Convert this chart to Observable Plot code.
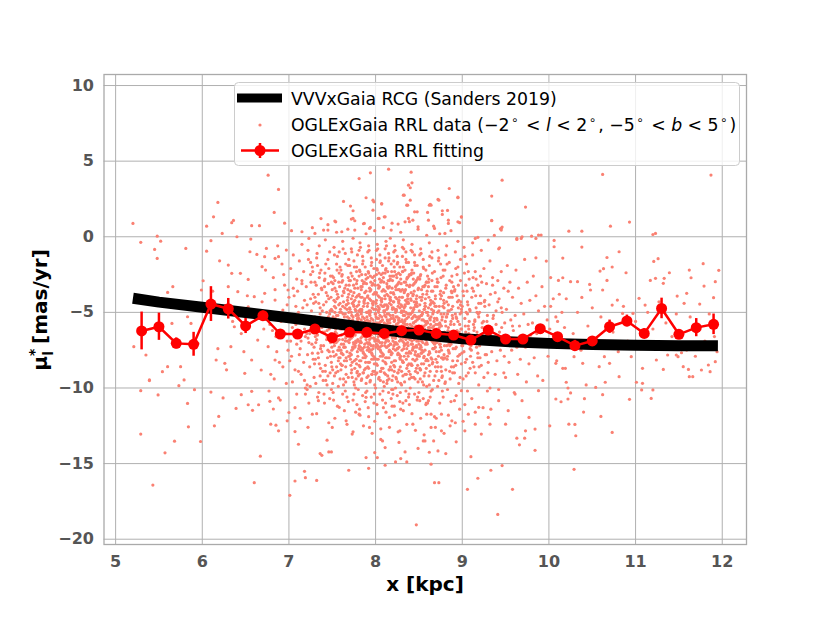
<!DOCTYPE html>
<html><head><meta charset="utf-8">
<script src="https://cdn.jsdelivr.net/npm/d3@7"></script>
<script src="https://cdn.jsdelivr.net/npm/@observablehq/plot@0.6"></script>
<style>html,body{margin:0;padding:0;background:#fff}svg{display:block}</style>
</head><body><div id="chart"></div>
<script>
const xTicks=[5,6,7,8,9,10,11,12];
const yTicks=[10,5,0,-5,-10,-15,-20];
const rcgX=[5.2,5.5,6.0,6.5,7.0,7.5,8.0,8.5,9.0,9.5,10.0,10.5,11.0,11.5,11.95];
const rcgY=[-4.07,-4.32,-4.66,-5.01,-5.36,-5.72,-6.08,-6.45,-6.74,-6.93,-7.05,-7.13,-7.18,-7.2,-7.21];
const fitX=[5.3,5.5,5.7,5.9,6.1,6.3,6.5,6.7,6.9,7.1,7.3,7.5,7.7,7.9,8.1,8.3,8.5,8.7,8.9,9.1,9.3,9.5,9.7,9.9,10.1,10.3,10.5,10.7,10.9,11.1,11.3,11.5,11.7,11.9];
const fitY=[-6.23,-5.95,-7.05,-7.11,-4.45,-4.76,-5.9,-5.22,-6.43,-6.43,-6.1,-6.67,-6.32,-6.32,-6.39,-6.21,-6.17,-6.39,-6.5,-6.83,-6.17,-6.76,-6.76,-6.08,-6.61,-7.2,-6.89,-5.95,-5.57,-6.39,-4.74,-6.45,-6.01,-5.79];
const fitErr=[1.25,0.9,0.36,0.79,1.15,0.68,0.5,0.3,0.25,0.2,0.2,0.2,0.15,0.15,0.15,0.15,0.15,0.15,0.15,0.2,0.2,0.2,0.2,0.2,0.25,0.35,0.25,0.44,0.39,0.3,0.68,0.3,0.6,0.68];

// OGLExGaia RRL stars, [x, mu] pairs
const rrlUpper=[5.2,0.88,5.29,-0.37,5.48,0.04,5.52,-0.29,5.45,-0.84,5.48,-1.43,5.81,-0.77,6.18,2.27,6.13,1.32,6.05,0.7,6.1,-0.26,6.05,-0.95,6.2,-1.59,6.3,-1.87,6.34,0.93,6.36,1.08,6.4,0,6.23,0.22,6.57,0.73,6.66,0.73,6.76,4.07,6.88,3.13,6.83,1.61,6.56,-0.15,6.55,-0.99,6.74,-0.77,6.63,-1.17,6.69,-1.98,6.34,-2.42,6.44,-2.42,6.53,-2.82,6.01,-2.91,6.84,-1.43,6.88,-1.32,6.97,-0.88,6.72,-1.32,7.81,3.85,7.94,4.23,8.15,4.47,8.41,4.27,7.63,2.34,7.71,2.03,7.74,1.72,7.89,2.58,7.98,2.31,8.07,2.16,7.97,1.76,7.54,0.99,7.72,1.17,7.87,0.88,7.94,0.62,8.4,3.24,8.33,2.75,8.4,2.42,8.37,2.09,8.48,1.65,8.6,1.61,8.64,2.09,8.1,1.32,8.04,1.21,8.34,0.99,8.43,1.1,
10.62,4.12,9.46,3.74,8.85,3.19,8.95,2.62,9.34,2.69,9.73,1.96,8.72,2.47,8.63,2.14,8.83,1.74,8.77,1.48,8.99,1.3,9.34,1.08,9.46,0.64,9.44,0.53,8.97,0.93,8.84,0.88,10.71,0.7,10.93,0.97,10.23,0.37,10.38,0.37,11.2,0.15,11.23,0.22,9.63,-0.11,9.69,0,9.85,-0.11,9.91,0.11,10.06,-0.24,10.06,-0.66,10.38,-0.68,10.16,-1.41,10.81,-0.99,10.67,-1.37,10.73,-2.0,10.59,-2.27,10.63,-2.11,10.89,-2.38,11.21,-1.63,11.26,-1.45,11.39,-2.38,11.17,-2.89,11.23,-2.75,11.33,-2.75,11.64,-2.71,11.78,-1.78,11.92,-2.97,11.96,-2.22,10.11,-2.89,10.16,-2.71,10.25,-2.97,10.33,-2.97,10.47,-3.15,10.67,-2.89,9.97,-1.61,9.85,-1.39,9.43,-0.73,9.3,-0.22,9.37,0.09,11.87,4.08,
8.38,3.41,8.42,3.57,7.97,2.42,7.53,1.04,7.74,1.21,7.76,1.06,7.86,0.86,8.07,2.2,8.11,1.32,8.03,1.21,8.32,2.75,8.36,2.09,8.45,1.65,8.62,2.09,8.73,2.42,8.95,2.58,8.77,1.72,8.84,1.1,8.95,0.99,8.99,1.32,8.61,1.1,8.26,0.84,8.38,1.21,8.49,0.66,8.68,0.55,8.8,0.22,8.18,0.44,7.93,0.55,7.76,0.44,7.61,0.33,7.45,0.44,7.4,0.44,7.3,0.22,7.15,0.33,7.23,-0.11,9.34,1.06,9.45,0.55,9.45,0.44,9.68,-0.11,9.63,-0.18,9.8,0.04,9.15,-0.11,9.18,-0.04,9.88,0.11];
const rrlLower=[5.29,-10.18,5.49,-10.46,5.73,-9.85,5.91,-10.11,5.39,-9.51,5.83,-11.02,5.29,-13.05,5.84,-12.57,5.68,-13.52,5.98,-13.54,5.57,-14.29,5.43,-16.42,6.1,-10.27,6.24,-10.66,6.19,-11.88,6.14,-12.5,6.45,-10.44,6.57,-10.22,6.39,-11.35,6.53,-11.11,6.58,-11.48,6.65,-11.11,6.67,-14.51,6.6,-16.26,6.78,-10.88,6.88,-10.66,6.79,-12.39,6.85,-12.46,6.88,-12.83,6.98,-12.17,6.82,-11.39,7.0,-11.62,7.07,-12.88,7.11,-13.72,7.18,-15.51,7.19,-15.93,7.07,-16.15,7.32,-16.11,7.01,-17.1,7.36,-14.34,7.38,-14.45,7.46,-14.23,7.49,-14.23,7.44,-13.45,7.69,-15.44,7.89,-14.6,7.92,-15.31,7.99,-14.27,8.11,-15.11,8.23,-14.89,8.29,-14.67,8.47,-19.05,8.36,-14.89,8.64,-15.04,8.68,-16.26,8.49,-14.0,8.62,-14.25,8.34,-14.23,8.11,-13.94,8.02,-14.6,
7.19,-10.4,7.34,-10.84,7.58,-11.28,7.66,-12.17,7.81,-11.73,7.73,-13.05,7.93,-12.61,8.16,-11.95,8.28,-12.83,8.43,-12.39,8.55,-13.5,8.59,-11.73,8.08,-13.5,7.5,-12.61,7.27,-11.73,8.35,-10.84,8.51,-10.84,8.2,-10.4,7.89,-10.62,7.62,-10.4,
8.73,-16.26,8.81,-14.34,9.1,-14.54,9.06,-16.7,9.18,-15.97,9.33,-15.44,9.46,-15.13,9.58,-16.7,9.41,-18.36,9.84,-14.12,9.63,-13.32,9.72,-13.32,9.66,-13.76,9.84,-12.72,8.93,-13.56,8.67,-13.5,8.72,-14.16,10.29,-15.38,10.31,-13.16,10.23,-12.39,10.3,-12.41,10.01,-12.5,10.73,-12.94,10.4,-11.59,10.6,-11.88,10.08,-10.73,10.14,-10.91,10.22,-10.73,10.25,-10.33,10.41,-10.71,10.62,-10.44,10.93,-10.75,11.18,-10.69,11.2,-10.13,11.07,-10.13,11.08,-9.69,11.01,-9.62,10.54,-9.96,10.65,-9.62,10.43,-9.8,10.2,-9.62,10.22,-10.0,
8.57,-13.5,8.64,-12.61,8.76,-11.73,8.61,-10.84,8.88,-12.17,8.91,-10.84,9.03,-12.83,9.07,-11.73,9.19,-11.28,9.15,-12.39,9.3,-11.95,9.42,-10.84,9.5,-12.39,9.53,-11.5,9.69,-10.84,9.77,-11.95,9.61,-10.4,9.88,-10.18,9.32,-12.39,9.22,-13.05,9.73,-12.83,8.99,-10.18,8.76,-12.83,8.64,-11.73];
const rrlSides=[11.04,-4.07,11.11,-4.52,11.32,-3.08,11.48,-3.92,11.79,-3.26,11.9,-4.03,11.74,-4.45,11.59,-3.74,10.95,-7.93,11.08,-8.7,11.32,-8.77,11.49,-7.93,11.55,-8.59,11.61,-8.77,11.62,-9.25,11.66,-9.25,11.76,-8.81,11.86,-8.92,11.92,-8.26,11.84,-8.48,11.53,-7.67,11.47,-7.82,11.59,-7.49,11.37,-7.82,11.24,-8.15,10.97,-5.07,10.85,-5.07,10.79,-4.19,10.73,-4.52,10.62,-3.52,10.38,-4.01,10.48,-3.52,10.7,-8.37,10.64,-7.93,10.58,-8.59,10.81,-9.25,10.39,-8.37,10.29,-7.93,10.19,-8.7,10.08,-8.37,
10.02,-4.6,10.1,-5.6,10.14,-7.2,10.2,-4.1,10.28,-6.4,10.33,-5.0,10.37,-7.5,10.45,-5.9,10.5,-4.7,10.55,-6.7,10.6,-5.3,10.68,-7.0,10.74,-6.3,10.8,-7.6,10.86,-4.6,10.91,-6.9,11.0,-5.6,11.06,-7.4,11.14,-5.0,11.2,-6.1,11.27,-4.3,11.35,-5.7,11.42,-6.6,11.47,-5.1,11.56,-4.4,11.63,-5.3,11.69,-7.9,11.8,-6.9,11.85,-5.1,11.91,-6.6,11.94,-7.6,11.62,-2.2,
5.6,-3.68,5.66,-3.3,5.87,-5.73,5.99,-3.52,6.0,-4.52,5.65,-5.73,5.83,-5.29,5.6,-8.59,5.75,-8.59,5.54,-8.92,5.35,-7.82,5.21,-7.27,5.39,-9.47,5.79,-9.47,5.95,-7.05,6.16,-8.15,6.26,-8.37,6.33,-7.27,6.37,-5.95,6.41,-5.29,6.53,-4.63,6.6,-3.96,6.3,-3.3,6.41,-3.63,6.64,-6.83,6.76,-7.27,6.84,-8.15,6.68,-8.81,6.57,-8.15,6.49,-9.03,6.86,-5.07,6.93,-4.85,6.84,-4.19,6.72,-3.74,6.99,-3.52,
6.12,-3.6,6.18,-7.4,6.22,-4.7,6.28,-8.8,6.35,-5.6,6.45,-6.4,6.48,-7.6,6.52,-3.9,6.62,-5.2,6.69,-4.3,6.71,-6.1,6.78,-5.8,6.73,-2.2,6.77,-10.2,6.79,-9.1,6.82,-2.7,6.85,-6.6,6.88,-5.3,6.81,-6.2,6.86,-7.6,6.89,-8.3,6.83,-9.4,6.87,-0.6,6.84,-3.5,6.92,-1.8,6.95,-3.2,6.98,-4.5,6.91,-5.6,6.96,-6.4,6.99,-7.5,6.93,-8.6,6.97,-9.7,6.94,-2.5,6.90,-10.8,6.98,-6.9,6.95,0.9,
9.92,-3.3,9.95,-4.6,9.98,-5.5,9.91,-6.3,9.96,-7.0,9.99,-7.9,9.93,-9.5,10.02,-2.7,10.05,-4.1,10.08,-5.3,10.01,-6.1,10.06,-6.9,10.09,-8.2,10.12,-3.8,10.15,-5.0,10.18,-6.0,10.11,-7.3,10.16,-8.7];
const rrlCore=[
7.02,-2.1,7.05,-3.4,7.08,-4.6,7.01,-5.2,7.06,-6.3,7.09,-7.1,7.03,-7.9,7.07,-8.8,7.04,-9.6,7.00,-4.0,7.08,-5.8,7.02,-6.9,7.05,-1.2,7.09,-10.4,7.01,-8.2,7.06,-3.9,7.03,0.4,7.07,-11.3,7.04,-6.0,7.09,-2.8,
7.12,-1.6,7.15,-2.9,7.18,-4.2,7.11,-5.0,7.16,-5.7,7.19,-6.6,7.13,-7.4,7.17,-8.3,7.14,-9.1,7.10,-3.6,7.18,-6.1,7.12,-7.8,7.15,-0.5,7.19,-10.0,7.11,-8.9,7.16,-4.7,7.13,-12.0,7.17,-2.3,7.14,-6.9,7.18,-9.5,7.10,-5.4,7.15,-3.1,
7.22,-0.9,7.25,-2.5,7.28,-3.8,7.21,-4.5,7.26,-5.3,7.29,-6.2,7.23,-7.0,7.27,-7.7,7.24,-8.6,7.20,-3.3,7.28,-5.9,7.22,-6.7,7.25,-1.7,7.29,-9.3,7.21,-10.1,7.26,-4.9,7.23,-11.0,7.27,-2.0,7.24,-6.4,7.28,-8.1,7.20,-5.6,7.25,-4.1,7.22,-12.6,7.27,0.6,7.29,-7.3,7.21,-9.8,
7.32,-1.4,7.35,-2.7,7.38,-3.5,7.31,-4.3,7.36,-5.1,7.39,-5.8,7.33,-6.5,7.37,-7.2,7.34,-8.0,7.30,-3.0,7.38,-6.0,7.32,-6.8,7.35,-0.6,7.39,-8.9,7.31,-9.7,7.36,-4.7,7.33,-10.6,7.37,-2.2,7.34,-5.5,7.38,-7.6,7.30,-4.0,7.35,-8.4,7.32,-11.7,7.37,1.2,7.39,-6.3,7.31,-7.0,7.34,-3.8,7.36,-9.2,7.33,-1.9,7.30,-5.3,
7.42,-0.2,7.45,-1.5,7.48,-2.6,7.41,-3.3,7.46,-4.1,7.49,-4.8,7.43,-5.4,7.47,-6.0,7.44,-6.6,7.40,-7.2,7.48,-7.9,7.42,-8.5,7.45,-9.2,7.49,-10.1,7.41,-11.0,7.46,-2.1,7.43,-3.7,7.47,-5.1,7.44,-5.8,7.48,-6.9,7.40,-4.5,7.45,-7.5,7.42,-8.9,7.47,-1.0,7.49,-3.0,7.41,-6.3,7.44,-9.8,7.46,-12.3,7.43,-4.3,7.40,-5.6,7.48,-7.0,7.45,0.8,7.41,-2.9,7.47,-10.7,7.44,-6.2,7.49,-8.3,
7.52,-0.7,7.55,-1.8,7.58,-2.4,7.51,-3.1,7.56,-3.8,7.59,-4.4,7.53,-5.0,7.57,-5.5,7.54,-6.1,7.50,-6.7,7.58,-7.3,7.52,-7.9,7.55,-8.6,7.59,-9.4,7.51,-10.3,7.56,-1.3,7.53,-2.9,7.57,-4.0,7.54,-4.7,7.58,-5.9,7.50,-3.5,7.55,-6.4,7.52,-7.0,7.57,-8.2,7.59,-2.0,7.51,-5.3,7.54,-9.0,7.56,-11.2,7.53,-3.4,7.50,-4.9,7.58,-6.8,7.55,0.3,7.51,-7.6,7.57,-9.9,7.54,-5.7,7.59,-8.0,7.52,-4.2,7.56,-6.9,7.50,-2.6,7.53,-12.0,7.58,-1.0,7.55,-5.2,
7.62,-0.3,7.65,-1.1,7.68,-1.9,7.61,-2.6,7.66,-3.2,7.69,-3.8,7.63,-4.3,7.67,-4.8,7.64,-5.3,7.60,-5.8,7.68,-6.3,7.62,-6.8,7.65,-7.3,7.69,-7.9,7.61,-8.5,7.66,-9.1,7.63,-9.8,7.67,-10.6,7.64,-11.5,7.60,-2.2,7.68,-3.5,7.62,-4.6,7.65,-5.1,7.69,-5.6,7.61,-6.1,7.66,-6.6,7.63,-7.1,7.67,-7.6,7.64,-8.2,7.60,-8.8,7.68,-4.0,7.62,-5.9,7.65,-6.9,7.69,-1.5,7.61,-3.0,7.66,-4.5,7.63,-9.4,7.67,-12.4,7.64,-6.4,7.60,-7.5,7.68,0.5,7.62,-2.9,7.65,-10.2,7.69,-5.0,7.61,-7.7,7.66,-8.0,7.63,-3.6,7.67,-6.0,
7.72,-0.8,7.75,-1.6,7.78,-2.3,7.71,-2.9,7.76,-3.4,7.79,-3.9,7.73,-4.4,7.77,-4.9,7.74,-5.3,7.70,-5.8,7.78,-6.2,7.72,-6.7,7.75,-7.1,7.79,-7.6,7.71,-8.1,7.76,-8.7,7.73,-9.3,7.77,-10.0,7.74,-10.8,7.70,-1.9,7.78,-3.1,7.72,-4.1,7.75,-4.6,7.79,-5.1,7.71,-5.6,7.76,-6.0,7.73,-6.5,7.77,-6.9,7.74,-7.4,7.70,-7.9,7.78,-8.4,7.72,-9.0,7.75,-3.7,7.79,-5.4,7.71,-6.4,7.76,-7.3,7.73,-2.6,7.77,-11.6,7.74,-0.1,7.70,-4.7,7.78,-5.7,7.72,-7.8,7.75,-9.6,7.79,-1.2,7.71,-3.6,7.76,-4.2,7.73,-8.3,7.77,-6.1,7.74,-12.9,7.70,-6.8,7.78,-2.0,7.72,-5.0,7.75,-10.4,7.79,-8.9,
7.82,-0.4,7.85,-1.3,7.88,-2.0,7.81,-2.6,7.86,-3.1,7.89,-3.6,7.83,-4.0,7.87,-4.4,7.84,-4.8,7.80,-5.2,7.88,-5.6,7.82,-6.0,7.85,-6.4,7.89,-6.8,7.81,-7.2,7.86,-7.7,7.83,-8.2,7.87,-8.8,7.84,-9.4,7.80,-10.1,7.88,-10.9,7.82,-11.8,7.85,-1.8,7.89,-2.8,7.81,-3.8,7.86,-4.6,7.83,-5.0,7.87,-5.4,7.84,-5.8,7.80,-6.2,7.88,-6.6,7.82,-7.0,7.85,-7.4,7.89,-7.9,7.81,-8.5,7.86,-9.0,7.83,-3.3,7.87,-4.2,7.84,-6.1,7.80,-6.9,7.88,-8.0,7.82,-2.3,7.85,-5.3,7.89,-9.7,7.81,-0.9,7.86,-12.5,7.83,-7.5,7.87,-3.0,7.84,-4.9,7.80,-5.9,7.88,-6.3,7.82,-8.6,7.85,-10.5,7.89,0.2,7.81,-4.3,7.86,-5.7,7.83,-6.7,7.87,-7.3,7.84,-2.5,7.80,-9.2,
7.92,-0.6,7.95,-1.4,7.98,-2.1,7.91,-2.7,7.96,-3.2,7.99,-3.7,7.93,-4.1,7.97,-4.5,7.94,-4.9,7.90,-5.3,7.98,-5.7,7.92,-6.1,7.95,-6.5,7.99,-6.9,7.91,-7.3,7.96,-7.8,7.93,-8.3,7.97,-8.9,7.94,-9.5,7.90,-10.2,7.98,-11.0,7.92,-11.9,7.95,-1.9,7.99,-2.9,7.91,-3.9,7.96,-4.7,7.93,-5.1,7.97,-5.5,7.94,-5.9,7.90,-6.3,7.98,-6.7,7.92,-7.1,7.95,-7.5,7.99,-8.0,7.91,-8.6,7.96,-9.1,7.93,-3.4,7.97,-4.3,7.94,-6.2,7.90,-7.0,7.98,-8.1,7.92,-2.4,7.95,-5.4,7.99,-9.8,7.91,-1.0,7.96,-13.0,7.93,-7.6,7.97,-3.1,7.94,-5.0,7.90,-6.0,7.98,-6.4,7.92,-8.7,7.95,-10.6,7.99,0.4,7.91,-4.4,7.96,-5.8,7.93,-6.8,7.97,-7.4,7.94,-2.6,7.90,-9.3,7.98,-4.8,7.92,-5.6,7.95,-7.2,7.99,-12.2,
8.02,-0.5,8.05,-1.2,8.08,-1.9,8.01,-2.5,8.06,-3.0,8.09,-3.5,8.03,-3.9,8.07,-4.3,8.04,-4.7,8.00,-5.1,8.08,-5.5,8.02,-5.9,8.05,-6.3,8.09,-6.7,8.01,-7.1,8.06,-7.6,8.03,-8.1,8.07,-8.7,8.04,-9.3,8.00,-10.0,8.08,-10.8,8.02,-11.7,8.05,-1.7,8.09,-2.7,8.01,-3.7,8.06,-4.5,8.03,-4.9,8.07,-5.3,8.04,-5.7,8.00,-6.1,8.08,-6.5,8.02,-6.9,8.05,-7.3,8.09,-7.8,8.01,-8.4,8.06,-8.9,8.03,-3.2,8.07,-4.1,8.04,-6.0,8.00,-6.8,8.08,-7.9,8.02,-2.2,8.05,-5.2,8.09,-9.6,8.01,-0.9,8.06,-12.7,8.03,-7.4,8.07,-2.9,8.04,-4.8,8.00,-5.8,8.08,-6.2,8.02,-8.5,8.05,-10.4,8.09,0.6,8.01,-4.2,8.06,-5.6,8.03,-6.6,8.07,-7.2,8.04,-2.4,8.00,-9.1,8.08,-4.6,8.02,-5.4,8.05,-7.0,8.09,-11.3,8.01,-1.5,8.06,-13.4,
8.12,-0.3,8.15,-1.1,8.18,-1.8,8.11,-2.4,8.16,-2.9,8.19,-3.4,8.13,-3.8,8.17,-4.2,8.14,-4.6,8.10,-5.0,8.18,-5.4,8.12,-5.8,8.15,-6.2,8.19,-6.6,8.11,-7.0,8.16,-7.5,8.13,-8.0,8.17,-8.6,8.14,-9.2,8.10,-9.9,8.18,-10.7,8.12,-11.6,8.15,-1.6,8.19,-2.6,8.11,-3.6,8.16,-4.4,8.13,-4.8,8.17,-5.2,8.14,-5.6,8.10,-6.0,8.18,-6.4,8.12,-6.8,8.15,-7.2,8.19,-7.7,8.11,-8.3,8.16,-8.8,8.13,-3.1,8.17,-4.0,8.14,-5.9,8.10,-6.7,8.18,-7.8,8.12,-2.1,8.15,-5.1,8.19,-9.5,8.11,-0.8,8.16,-12.6,8.13,-7.3,8.17,-2.8,8.14,-4.7,8.10,-5.7,8.18,-6.1,8.12,-8.4,8.15,-10.3,8.19,0.9,8.11,-4.1,8.16,-5.5,8.13,-6.5,8.17,-7.1,8.14,-2.3,8.10,-9.0,8.18,-4.5,8.12,-5.3,8.15,-6.9,8.19,-11.2,8.11,-1.4,8.16,-3.3,8.13,-9.7,8.17,-0.1,
8.22,-0.6,8.25,-1.3,8.28,-2.0,8.21,-2.6,8.26,-3.1,8.29,-3.6,8.23,-4.0,8.27,-4.4,8.24,-4.8,8.20,-5.2,8.28,-5.6,8.22,-6.0,8.25,-6.4,8.29,-6.8,8.21,-7.2,8.26,-7.7,8.23,-8.2,8.27,-8.8,8.24,-9.4,8.20,-10.1,8.28,-10.9,8.22,-11.8,8.25,-1.8,8.29,-2.8,8.21,-3.8,8.26,-4.6,8.23,-5.0,8.27,-5.4,8.24,-5.8,8.20,-6.2,8.28,-6.6,8.22,-7.0,8.25,-7.4,8.29,-7.9,8.21,-8.5,8.26,-9.0,8.23,-3.3,8.27,-4.2,8.24,-6.1,8.20,-6.9,8.28,-8.0,8.22,-2.3,8.25,-5.3,8.29,-9.7,8.21,-1.0,8.26,-12.9,8.23,-7.5,8.27,-3.0,8.24,-4.9,8.20,-5.9,8.28,-6.3,8.22,-8.6,8.25,-10.5,8.29,0.3,8.21,-4.3,8.26,-5.7,8.23,-6.7,8.27,-7.3,8.24,-2.5,8.20,-9.2,8.28,-4.7,8.22,-5.5,8.25,-7.1,8.29,-11.4,8.21,-1.6,8.26,-3.5,8.23,-10.0,8.27,-13.6,
8.32,-0.2,8.35,-1.0,8.38,-1.7,8.31,-2.3,8.36,-2.8,8.39,-3.3,8.33,-3.7,8.37,-4.1,8.34,-4.5,8.30,-4.9,8.38,-5.3,8.32,-5.7,8.35,-6.1,8.39,-6.5,8.31,-6.9,8.36,-7.4,8.33,-7.9,8.37,-8.5,8.34,-9.1,8.30,-9.8,8.38,-10.6,8.32,-11.5,8.35,-1.5,8.39,-2.5,8.31,-3.5,8.36,-4.3,8.33,-4.7,8.37,-5.1,8.34,-5.5,8.30,-5.9,8.38,-6.3,8.32,-6.7,8.35,-7.1,8.39,-7.6,8.31,-8.2,8.36,-8.7,8.33,-3.0,8.37,-3.9,8.34,-5.8,8.30,-6.6,8.38,-7.7,8.32,-2.0,8.35,-5.0,8.39,-9.4,8.31,-0.7,8.36,-12.4,8.33,-7.2,8.37,-2.7,8.34,-4.6,8.30,-5.6,8.38,-6.0,8.32,-8.3,8.35,-10.2,8.39,1.0,8.31,-4.0,8.36,-5.4,8.33,-6.4,8.37,-7.0,8.34,-2.2,8.30,-8.9,8.38,-4.4,8.32,-5.2,8.35,-6.8,8.39,-11.1,8.31,-1.3,8.36,-3.2,
8.42,-0.5,8.45,-1.2,8.48,-1.9,8.41,-2.5,8.46,-3.0,8.49,-3.5,8.43,-3.9,8.47,-4.3,8.44,-4.7,8.40,-5.1,8.48,-5.5,8.42,-5.9,8.45,-6.3,8.49,-6.7,8.41,-7.1,8.46,-7.6,8.43,-8.1,8.47,-8.7,8.44,-9.3,8.40,-10.0,8.48,-10.8,8.42,-11.7,8.45,-1.7,8.49,-2.7,8.41,-3.7,8.46,-4.5,8.43,-4.9,8.47,-5.3,8.44,-5.7,8.40,-6.1,8.48,-6.5,8.42,-6.9,8.45,-7.3,8.49,-7.8,8.41,-8.4,8.46,-8.9,8.43,-3.2,8.47,-4.1,8.44,-6.0,8.40,-6.8,8.48,-7.9,8.42,-2.2,8.45,-5.2,8.49,-9.6,8.41,-0.9,8.46,-12.8,8.43,-7.4,8.47,-2.9,8.44,-4.8,8.40,-5.8,8.48,-6.2,8.42,-8.5,8.45,-10.4,8.49,0.5,8.41,-4.2,8.46,-5.6,8.43,-6.6,8.47,-7.2,8.44,-2.4,8.40,-9.1,8.48,-4.6,8.42,-5.4,
8.52,-0.8,8.55,-1.5,8.58,-2.2,8.51,-2.8,8.56,-3.3,8.59,-3.8,8.53,-4.2,8.57,-4.6,8.54,-5.0,8.50,-5.4,8.58,-5.8,8.52,-6.2,8.55,-6.6,8.59,-7.0,8.51,-7.4,8.56,-7.9,8.53,-8.4,8.57,-9.0,8.54,-9.6,8.50,-10.3,8.58,-11.1,8.52,-12.0,8.55,-2.0,8.59,-3.0,8.51,-4.0,8.56,-4.8,8.53,-5.2,8.57,-5.6,8.54,-6.0,8.50,-6.4,8.58,-6.8,8.52,-7.2,8.55,-7.6,8.59,-8.1,8.51,-8.7,8.56,-9.2,8.53,-3.5,8.57,-4.4,8.54,-6.3,8.50,-7.1,8.58,-8.2,8.52,-2.5,8.55,-5.5,8.59,-9.9,8.51,-1.2,8.56,-13.1,8.53,-7.7,8.57,-3.2,8.54,-5.1,8.50,-6.1,8.58,-6.5,8.52,-8.8,8.55,-10.7,8.59,0.1,8.51,-4.5,8.56,-5.9,8.53,-6.9,8.57,-7.5,
8.62,-0.4,8.65,-1.4,8.68,-2.3,8.61,-3.0,8.66,-3.6,8.69,-4.1,8.63,-4.5,8.67,-4.9,8.64,-5.3,8.60,-5.7,8.68,-6.1,8.62,-6.5,8.65,-6.9,8.69,-7.3,8.61,-7.8,8.66,-8.3,8.63,-8.9,8.67,-9.5,8.64,-10.2,8.60,-11.0,8.68,-11.9,8.62,-1.9,8.65,-2.9,8.69,-3.9,8.61,-4.7,8.66,-5.1,8.63,-5.5,8.67,-5.9,8.64,-6.3,8.60,-6.7,8.68,-7.1,8.62,-7.6,8.65,-8.1,8.69,-8.6,8.61,-3.3,8.66,-4.3,8.63,-6.2,8.67,-7.0,8.64,-8.0,8.60,-2.6,8.68,-5.4,8.62,-9.8,8.65,-1.0,8.69,-12.6,8.61,-6.0,8.66,-7.4,8.63,-10.6,8.67,0.7,8.64,-4.4,8.60,-5.0,8.68,-6.8,8.62,-8.5,
8.72,-0.9,8.75,-1.8,8.78,-2.6,8.71,-3.3,8.76,-3.9,8.79,-4.4,8.73,-4.9,8.77,-5.3,8.74,-5.7,8.70,-6.1,8.78,-6.5,8.72,-6.9,8.75,-7.3,8.79,-7.8,8.71,-8.3,8.76,-8.9,8.73,-9.5,8.77,-10.2,8.74,-11.0,8.70,-12.0,8.78,-2.2,8.72,-3.0,8.75,-4.1,8.79,-4.7,8.71,-5.5,8.76,-5.9,8.73,-6.3,8.77,-6.7,8.74,-7.1,8.70,-7.6,8.78,-8.1,8.72,-8.6,8.75,-3.6,8.79,-5.1,8.71,-6.8,8.76,-7.5,8.73,-1.4,8.77,-9.2,8.74,0.2,8.70,-4.6,8.78,-10.6,8.72,-5.8,8.75,-6.6,8.79,-13.0,8.71,-2.8,8.76,-8.0,
8.82,-0.6,8.85,-1.7,8.88,-2.6,8.81,-3.4,8.86,-4.0,8.89,-4.6,8.83,-5.1,8.87,-5.6,8.84,-6.0,8.80,-6.4,8.88,-6.8,8.82,-7.2,8.85,-7.7,8.89,-8.2,8.81,-8.8,8.86,-9.4,8.83,-10.1,8.87,-10.9,8.84,-11.8,8.80,-2.2,8.88,-3.0,8.82,-4.3,8.85,-4.9,8.89,-5.4,8.81,-5.9,8.86,-6.3,8.83,-6.7,8.87,-7.1,8.84,-7.5,8.80,-8.0,8.88,-3.7,8.82,-5.3,8.85,-6.6,8.89,-9.0,8.81,-1.2,8.86,-12.5,8.83,-7.9,8.87,0.4,8.84,-4.5,8.80,-9.7,
8.92,-1.0,8.95,-2.0,8.98,-2.9,8.91,-3.6,8.96,-4.2,8.99,-4.8,8.93,-5.3,8.97,-5.8,8.94,-6.2,8.90,-6.6,8.98,-7.0,8.92,-7.4,8.95,-7.9,8.99,-8.4,8.91,-9.0,8.96,-9.7,8.93,-10.5,8.97,-11.4,8.94,-2.5,8.90,-3.3,8.98,-4.5,8.92,-5.1,8.95,-5.6,8.99,-6.1,8.91,-6.5,8.96,-6.9,8.93,-7.3,8.97,-7.8,8.94,-3.9,8.90,-8.6,8.98,-1.5,8.92,-12.3,8.95,-0.3,8.99,-5.0,
9.02,-0.7,9.05,-1.8,9.08,-2.8,9.01,-3.6,9.06,-4.3,9.09,-4.9,9.03,-5.4,9.07,-5.9,9.04,-6.3,9.00,-6.7,9.08,-7.1,9.02,-7.6,9.05,-8.1,9.09,-8.7,9.01,-9.4,9.06,-10.2,9.03,-11.1,9.07,-2.3,9.04,-3.2,9.00,-4.6,9.08,-5.6,9.02,-6.5,9.05,-6.9,9.09,-7.4,9.01,-12.2,9.06,-5.1,9.03,-1.3,9.07,-9.0,
9.12,-1.2,9.15,-2.3,9.18,-3.2,9.11,-4.0,9.16,-4.7,9.19,-5.3,9.13,-5.8,9.17,-6.3,9.14,-6.7,9.10,-7.2,9.18,-7.7,9.12,-8.3,9.15,-9.0,9.19,-9.8,9.11,-10.7,9.16,-2.8,9.13,-3.6,9.17,-5.0,9.14,-6.0,9.10,-6.9,9.18,-8.0,9.12,-0.4,9.15,-11.6,9.19,-4.4,
9.22,-0.9,9.25,-2.1,9.28,-3.1,9.21,-3.9,9.26,-4.6,9.29,-5.2,9.23,-5.7,9.27,-6.2,9.24,-6.7,9.20,-7.2,9.28,-7.8,9.22,-8.5,9.25,-9.3,9.29,-10.2,9.21,-2.6,9.26,-4.2,9.23,-6.0,9.27,-6.9,9.24,-11.3,9.20,-5.0,
9.32,-1.6,9.35,-2.7,9.38,-3.7,9.31,-4.5,9.36,-5.2,9.39,-5.8,9.33,-6.4,9.37,-7.0,9.34,-7.6,9.30,-8.3,9.38,-9.1,9.32,-10.0,9.35,-3.2,9.39,-4.9,9.31,-6.1,9.36,-6.7,9.33,-11.4,
9.42,-0.8,9.45,-2.3,9.48,-3.4,9.41,-4.3,9.46,-5.0,9.49,-5.7,9.43,-6.3,9.47,-6.9,9.44,-7.5,9.40,-8.2,9.48,-9.0,9.42,-10.1,9.45,-4.7,9.49,-6.6,9.41,-2.9,
9.52,-1.9,9.55,-3.0,9.58,-4.0,9.51,-4.8,9.56,-5.5,9.59,-6.2,9.53,-6.8,9.57,-7.5,9.54,-8.3,9.50,-9.3,9.58,-5.9,9.53,-3.6,
9.62,-2.2,9.65,-3.4,9.68,-4.4,9.61,-5.2,9.66,-5.9,9.69,-6.6,9.63,-7.3,9.67,-8.1,9.64,-9.1,9.60,-10.3,
9.72,-1.5,9.75,-3.0,9.78,-4.2,9.71,-5.1,9.76,-5.8,9.79,-6.5,9.73,-7.3,9.77,-8.4,9.74,-9.6,
9.82,-2.6,9.85,-3.9,9.88,-4.9,9.81,-5.7,9.86,-6.4,9.89,-7.2,9.83,-8.0,9.87,-9.2];
const rrlDense=[
7.315,-3.2,7.345,-4.4,7.375,-5.6,7.305,-6.6,7.335,-7.7,7.365,-8.7,7.415,-2.8,7.445,-3.9,7.475,-4.9,7.405,-5.9,7.435,-6.8,7.465,-7.6,7.495,-8.6,7.425,-9.5,7.455,-5.3,7.485,-6.4,
7.515,-2.7,7.545,-3.6,7.575,-4.5,7.505,-5.6,7.535,-6.3,7.565,-7.5,7.595,-8.4,7.525,-9.2,7.555,-4.1,7.585,-5.0,7.515,-6.9,7.545,-7.8,7.575,-3.0,7.505,-8.8,7.535,-5.4,7.565,-6.0,7.595,-4.8,7.525,-7.2,
7.615,-2.5,7.645,-3.4,7.675,-4.2,7.605,-5.0,7.635,-5.6,7.665,-6.2,7.695,-7.0,7.625,-7.8,7.655,-8.6,7.685,-9.3,7.615,-3.9,7.645,-4.7,7.675,-5.3,7.605,-6.5,7.635,-7.3,7.665,-8.2,7.695,-2.9,7.625,-5.9,7.655,-6.7,7.685,-4.4,7.605,-7.1,
7.715,-2.4,7.745,-3.2,7.775,-4.0,7.705,-4.8,7.735,-5.5,7.765,-6.1,7.795,-6.8,7.725,-7.5,7.755,-8.2,7.785,-9.0,7.715,-3.6,7.745,-4.3,7.775,-5.2,7.705,-5.9,7.735,-6.6,7.765,-7.2,7.795,-7.9,7.725,-8.8,7.755,-2.8,7.785,-4.6,7.715,-6.3,7.745,-7.0,7.775,-9.4,
7.815,-2.2,7.845,-2.9,7.875,-3.7,7.805,-4.5,7.835,-5.1,7.865,-5.7,7.895,-6.3,7.825,-6.9,7.855,-7.6,7.885,-8.3,7.815,-9.1,7.845,-3.3,7.875,-4.1,7.805,-4.9,7.835,-5.5,7.865,-6.1,7.895,-6.6,7.825,-7.3,7.855,-8.0,7.885,-8.7,7.815,-5.8,7.845,-6.6,7.875,-7.1,7.805,-3.9,7.835,-9.5,
7.915,-2.3,7.945,-3.0,7.975,-3.8,7.905,-4.6,7.935,-5.2,7.965,-5.8,7.995,-6.4,7.925,-7.0,7.955,-7.7,7.985,-8.4,7.915,-9.2,7.945,-3.5,7.975,-4.3,7.905,-5.0,7.935,-5.6,7.965,-6.2,7.995,-6.8,7.925,-7.4,7.955,-8.1,7.985,-8.9,7.915,-5.9,7.945,-6.7,7.975,-7.2,7.905,-4.0,7.935,-9.6,7.965,-2.7,
8.015,-2.1,8.045,-2.8,8.075,-3.6,8.005,-4.4,8.035,-5.0,8.065,-5.6,8.095,-6.2,8.025,-6.8,8.055,-7.5,8.085,-8.2,8.015,-9.0,8.045,-3.3,8.075,-4.1,8.005,-4.8,8.035,-5.4,8.065,-6.0,8.095,-6.6,8.025,-7.2,8.055,-7.9,8.085,-8.7,8.015,-5.7,8.045,-6.5,8.075,-7.0,8.005,-3.8,8.035,-9.4,8.065,-2.5,8.095,-4.6,
8.115,-2.2,8.145,-2.9,8.175,-3.7,8.105,-4.5,8.135,-5.1,8.165,-5.7,8.195,-6.3,8.125,-6.9,8.155,-7.6,8.185,-8.3,8.115,-9.1,8.145,-3.4,8.175,-4.2,8.105,-4.9,8.135,-5.5,8.165,-6.1,8.195,-6.7,8.125,-7.3,8.155,-8.0,8.185,-8.8,8.115,-5.8,8.145,-6.6,8.175,-7.1,8.105,-3.9,8.135,-9.5,8.165,-2.6,8.195,-4.7,
8.215,-2.0,8.245,-2.7,8.275,-3.5,8.205,-4.3,8.235,-4.9,8.265,-5.5,8.295,-6.1,8.225,-6.7,8.255,-7.4,8.285,-8.1,8.215,-8.9,8.245,-3.2,8.275,-4.0,8.205,-4.7,8.235,-5.3,8.265,-5.9,8.295,-6.5,8.225,-7.1,8.255,-7.8,8.285,-8.6,8.215,-5.6,8.245,-6.4,8.275,-6.9,8.205,-3.7,8.235,-9.3,8.265,-2.4,8.295,-4.5,
8.315,-2.3,8.345,-3.0,8.375,-3.8,8.305,-4.6,8.335,-5.2,8.365,-5.8,8.395,-6.4,8.325,-7.0,8.355,-7.7,8.385,-8.4,8.315,-9.2,8.345,-3.5,8.375,-4.3,8.305,-5.0,8.335,-5.6,8.365,-6.2,8.395,-6.8,8.325,-7.4,8.355,-8.1,8.385,-8.9,8.315,-5.9,8.345,-6.7,8.375,-7.2,8.305,-4.0,8.335,-9.6,8.365,-2.7,
8.415,-2.4,8.445,-3.1,8.475,-3.9,8.405,-4.7,8.435,-5.3,8.465,-5.9,8.495,-6.5,8.425,-7.1,8.455,-7.8,8.485,-8.5,8.415,-9.3,8.445,-3.6,8.475,-4.4,8.405,-5.1,8.435,-5.7,8.465,-6.3,8.495,-6.9,8.425,-7.5,8.455,-8.2,8.485,-9.0,8.415,-6.0,8.445,-6.8,8.475,-7.3,8.405,-4.1,8.435,-2.8,
8.515,-2.6,8.545,-3.3,8.575,-4.1,8.505,-4.9,8.535,-5.5,8.565,-6.1,8.595,-6.7,8.525,-7.3,8.555,-8.0,8.585,-8.7,8.515,-9.4,8.545,-3.8,8.575,-4.6,8.505,-5.3,8.535,-5.9,8.565,-6.5,8.595,-7.1,8.525,-7.7,8.555,-8.4,8.585,-5.0,8.515,-6.3,8.545,-7.0,
8.615,-2.8,8.645,-3.6,8.675,-4.4,8.605,-5.2,8.635,-5.8,8.665,-6.4,8.695,-7.0,8.625,-7.7,8.655,-8.4,8.685,-9.2,8.615,-4.0,8.645,-4.8,8.675,-5.6,8.605,-6.2,8.635,-6.8,8.665,-7.4,8.695,-8.1,8.625,-5.4,8.655,-6.0,
8.715,-3.0,8.745,-3.8,8.775,-4.6,8.705,-5.4,8.735,-6.0,8.765,-6.6,8.795,-7.2,8.725,-7.9,8.755,-8.6,8.785,-4.2,8.715,-5.0,8.745,-5.8,8.775,-6.4,8.705,-7.0,8.735,-7.6,8.765,-9.3,
8.815,-3.2,8.845,-4.0,8.875,-4.8,8.805,-5.6,8.835,-6.2,8.865,-6.8,8.895,-7.4,8.825,-8.1,8.855,-8.9,8.885,-5.2,8.815,-6.5,8.845,-7.1,8.875,-3.6,
8.915,-3.5,8.945,-4.3,8.975,-5.1,8.905,-5.8,8.935,-6.4,8.965,-7.0,8.995,-7.7,8.925,-8.5,8.955,-4.7,8.985,-6.1,
9.015,-3.9,9.045,-5.0,9.075,-6.1,9.005,-7.2,9.035,-8.3,9.065,-4.5,9.115,-3.4,9.145,-5.5,9.175,-6.5,9.105,-7.5,9.135,-8.6,9.215,-4.4,9.245,-5.6,9.275,-7.0,9.205,-8.0];
const rrlDense2=[
7.225,-1.5,7.255,-3.0,7.285,-4.4,7.235,-5.7,7.265,-7.1,7.295,-8.4,7.245,-9.9,7.275,-2.3,7.205,-6.4,7.215,-7.8,
7.325,-1.1,7.355,-2.4,7.385,-4.9,7.335,-6.2,7.365,-7.4,7.395,-9.5,7.345,-10.3,7.375,-3.4,7.305,-8.1,7.315,-5.9,
7.425,-1.8,7.455,-3.1,7.485,-4.0,7.435,-5.0,7.465,-6.1,7.495,-7.3,7.445,-8.0,7.475,-9.0,7.405,-10.4,7.415,-2.4,7.455,-6.7,7.485,-5.5,
7.525,-1.2,7.555,-2.2,7.585,-3.3,7.535,-4.3,7.565,-5.2,7.595,-6.1,7.545,-7.0,7.575,-8.0,7.505,-9.7,7.515,-10.8,7.555,-5.8,7.585,-7.5,7.525,-4.6,7.565,-8.9,
7.625,-0.8,7.655,-1.8,7.685,-2.7,7.635,-3.7,7.665,-4.5,7.695,-5.4,7.645,-6.0,7.675,-6.9,7.605,-7.7,7.615,-8.5,7.655,-9.6,7.685,-10.9,7.625,-5.1,7.665,-6.5,7.695,-3.2,7.635,-7.3,
7.725,-1.0,7.755,-2.0,7.785,-2.9,7.735,-3.9,7.765,-4.8,7.795,-5.5,7.745,-6.2,7.775,-7.0,7.705,-7.7,7.715,-8.5,7.755,-9.8,7.785,-11.1,7.725,-5.2,7.765,-6.5,7.795,-3.4,7.735,-7.3,7.745,-4.5,7.775,-8.1,
7.825,-0.7,7.855,-1.6,7.885,-2.5,7.835,-3.5,7.865,-4.3,7.895,-5.0,7.845,-5.9,7.875,-6.6,7.805,-7.4,7.815,-8.2,7.855,-9.0,7.885,-10.3,7.825,-4.8,7.865,-6.2,7.895,-3.1,7.835,-7.0,7.845,-4.0,7.875,-7.8,7.805,-5.4,7.815,-11.4,
7.925,-0.9,7.955,-1.7,7.985,-2.6,7.935,-3.6,7.965,-4.4,7.995,-5.1,7.945,-6.0,7.975,-6.7,7.905,-7.5,7.915,-8.3,7.955,-9.1,7.985,-10.4,7.925,-4.9,7.965,-6.3,7.995,-3.2,7.935,-7.1,7.945,-4.2,7.975,-7.9,7.905,-5.5,7.915,-11.3,
8.025,-0.8,8.055,-1.6,8.085,-2.4,8.035,-3.4,8.065,-4.2,8.095,-4.9,8.045,-5.8,8.075,-6.5,8.005,-7.3,8.015,-8.1,8.055,-8.9,8.085,-10.2,8.025,-4.6,8.065,-6.1,8.095,-3.0,8.035,-6.9,8.045,-4.0,8.075,-7.7,8.005,-5.3,8.015,-11.1,8.055,-9.5,
8.125,-0.6,8.155,-1.4,8.185,-2.3,8.135,-3.3,8.165,-4.1,8.195,-4.8,8.145,-5.7,8.175,-6.4,8.105,-7.2,8.115,-8.0,8.155,-8.8,8.185,-10.1,8.125,-4.5,8.165,-6.0,8.195,-2.9,8.135,-6.8,8.145,-3.9,8.175,-7.6,8.105,-5.2,8.115,-11.0,8.155,-9.4,
8.225,-0.9,8.255,-1.7,8.285,-2.5,8.235,-3.5,8.265,-4.3,8.295,-5.0,8.245,-5.9,8.275,-6.6,8.205,-7.4,8.215,-8.2,8.255,-9.0,8.285,-10.3,8.225,-4.8,8.265,-6.2,8.295,-3.1,8.235,-7.0,8.245,-4.1,8.275,-7.8,8.205,-5.4,8.215,-11.2,8.255,-9.6,
8.325,-0.8,8.355,-1.7,8.385,-2.6,8.335,-3.6,8.365,-4.4,8.395,-5.1,8.345,-6.0,8.375,-6.7,8.305,-7.5,8.315,-8.3,8.355,-9.1,8.385,-10.4,8.325,-4.9,8.365,-6.3,8.395,-3.2,8.335,-7.1,8.345,-4.2,8.375,-7.9,8.305,-5.5,8.315,-11.0,
8.425,-1.0,8.455,-1.9,8.485,-2.8,8.435,-3.8,8.465,-4.6,8.495,-5.3,8.445,-6.1,8.475,-6.9,8.405,-7.7,8.415,-8.5,8.455,-9.4,8.485,-10.6,8.425,-5.0,8.465,-6.4,8.495,-3.4,8.435,-7.3,8.445,-4.3,8.475,-8.1,
8.525,-1.1,8.555,-2.1,8.585,-3.0,8.535,-4.0,8.565,-4.8,8.595,-5.6,8.545,-6.3,8.575,-7.1,8.505,-7.9,8.515,-8.8,8.555,-9.8,8.585,-11.0,8.525,-5.2,8.565,-6.7,8.595,-3.6,8.535,-7.5,
8.625,-1.3,8.655,-2.4,8.685,-3.3,8.635,-4.2,8.665,-5.0,8.695,-5.8,8.645,-6.6,8.675,-7.4,8.605,-8.2,8.615,-9.2,8.655,-10.1,8.685,-4.6,8.625,-6.0,8.665,-7.0,
8.725,-1.6,8.755,-2.7,8.785,-3.7,8.735,-4.6,8.765,-5.5,8.795,-6.3,8.745,-7.1,8.775,-8.0,8.705,-8.9,8.715,-9.9,8.755,-5.1,8.785,-6.8,
8.825,-1.8,8.855,-2.9,8.885,-4.0,8.835,-4.9,8.865,-5.8,8.895,-6.7,8.845,-7.6,8.875,-8.6,8.805,-9.6,8.815,-5.3,8.855,-7.2,
8.925,-2.1,8.955,-3.2,8.985,-4.3,8.935,-5.4,8.965,-6.3,8.995,-7.2,8.945,-8.2,8.975,-9.3,8.905,-6.8,
9.025,-2.4,9.055,-3.6,9.085,-4.8,9.035,-5.9,9.065,-6.9,9.095,-7.9,9.045,-9.2,9.075,-6.4,
9.125,-2.7,9.155,-3.9,9.185,-5.1,9.135,-6.2,9.165,-7.3,9.195,-8.6,9.145,-5.6,
9.225,-3.0,9.255,-4.3,9.285,-5.6,9.235,-6.6,9.265,-7.8,9.295,-9.0,
9.325,-3.8,9.355,-5.4,9.385,-7.1,9.425,-4.1,9.455,-6.0,9.485,-7.9];

function pairs(a){const o=[];for(let i=0;i+1<a.length;i+=2)o.push({x:a[i],y:a[i+1]});return o;}
const rrl=[...pairs(rrlUpper),...pairs(rrlLower),...pairs(rrlSides),...pairs(rrlCore),...pairs(rrlDense),...pairs(rrlDense2)];
const rcg=rcgX.map((x,i)=>({x,y:rcgY[i]}));
const fit=fitX.map((x,i)=>({x,y:fitY[i],e:fitErr[i]}));

const chart=Plot.plot({
  width:830,height:623,
  marginLeft:103.5,marginRight:84,marginTop:74,marginBottom:79,
  x:{domain:[4.866,12.28]},
  y:{domain:[-20.35,10.73]},
  style:{fontFamily:"DejaVu Sans",background:"#fff",color:"#555"},
  marks:[
    Plot.gridX({ticks:xTicks,stroke:"#b0b0b0",strokeOpacity:1,strokeWidth:1}),
    Plot.gridY({ticks:yTicks,stroke:"#b0b0b0",strokeOpacity:1,strokeWidth:1}),
    Plot.dot(rrl,{x:"x",y:"y",r:1.6,fill:"#fa8072",stroke:"none"}),
    Plot.line(rcg,{x:"x",y:"y",stroke:"#000",strokeWidth:11,strokeLinecap:"butt"}),
    Plot.ruleX(fit,{x:"x",y1:d=>d.y-d.e,y2:d=>d.y+d.e,stroke:"red",strokeWidth:2.5}),
    Plot.line(fit,{x:"x",y:"y",stroke:"red",strokeWidth:2.5}),
    Plot.dot(fit,{x:"x",y:"y",r:5.5,fill:"red",stroke:"none"}),
    Plot.frame({stroke:"#aaaaaa",strokeWidth:1.3}),
    Plot.axisX({ticks:xTicks,tickSize:0,tickPadding:11,fontSize:16,fontWeight:"bold",label:null}),
    Plot.axisY({ticks:yTicks,tickSize:0,tickPadding:10,fontSize:16,fontWeight:"bold",label:null})
  ]
});
document.getElementById("chart").appendChild(chart);

const svg=d3.select(chart);
// axis titles
svg.append("text").attr("x",425).attr("y",591).attr("text-anchor","middle")
  .attr("font-family","DejaVu Sans").attr("font-weight","bold").attr("font-size",20).attr("fill","#000")
  .text("x [kpc]");
const yl=svg.append("text").attr("transform","translate(47,310) rotate(-90)").attr("text-anchor","middle")
  .attr("font-family","DejaVu Sans").attr("font-weight","bold").attr("font-size",20).attr("fill","#000");
yl.append("tspan").text("μ");
yl.append("tspan").attr("font-size",14).attr("dy",-8).text("*");
yl.append("tspan").attr("font-size",14).attr("dx",-7).attr("dy",14).text("l");
yl.append("tspan").attr("dy",-6).text(" [mas/yr]");

// legend
const lg=svg.append("g").attr("font-family","DejaVu Sans").attr("font-size",17.3).attr("fill","#000").attr("text-anchor","start");
lg.append("rect").attr("x",234.5).attr("y",82.5).attr("width",505).attr("height",83).attr("rx",4)
  .attr("fill","#fff").attr("fill-opacity",0.8).attr("stroke","#cccccc").attr("stroke-width",1);
lg.append("line").attr("x1",237).attr("x2",282).attr("y1",98).attr("y2",98).attr("stroke","#000").attr("stroke-width",9);
lg.append("text").attr("x",291).attr("y",105).text("VVVxGaia RCG (Sanders 2019)");
lg.append("circle").attr("cx",260).attr("cy",125).attr("r",1.6).attr("fill","#fa8072");
const t2=lg.append("text").attr("x",291).attr("y",131);
const parts=[["OGLExGaia RRL data (−2"],["∘","s"],[" < "],["l","i"],[" < 2"],["∘","s"],[", −5"],["∘","s"],[" < "],["b","i"],[" < 5"],["∘","s"],[")"]];
parts.forEach(([t,k],i)=>{
  const s=t2.append("tspan").text(t);
  if(k==="s"){s.attr("font-size",12).attr("dy",-7).attr("dx",1.5);}
  else{
    if(k==="i") s.attr("font-style","italic");
    if(i>0 && parts[i-1][1]==="s") s.attr("dy",7).attr("dx",2);
  }
});
lg.append("line").attr("x1",241).attr("x2",279).attr("y1",150.5).attr("y2",150.5).attr("stroke","red").attr("stroke-width",2.5);
lg.append("line").attr("x1",260).attr("x2",260).attr("y1",143).attr("y2",158).attr("stroke","red").attr("stroke-width",2.5);
lg.append("circle").attr("cx",260).attr("cy",150.5).attr("r",5.5).attr("fill","red");
lg.append("text").attr("x",291).attr("y",157).text("OGLExGaia RRL fitting");
</script>
</body></html>
